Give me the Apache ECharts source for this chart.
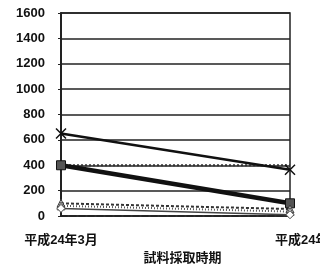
<!DOCTYPE html>
<html>
<head>
<meta charset="utf-8">
<script src="https://cdn.jsdelivr.net/npm/echarts@6/dist/echarts.min.js"></script>
<style>
  html, body, #main { width: 320px; height: 264px; margin: 0; background: #fff; }
</style>
</head>
<body>
<div id="main"></div>
<script>
  // sampling periods
  var periods = ['平成24年3月', '平成24年11月'];
  var yTicks = [0, 200, 400, 600, 800, 1000, 1200, 1400, 1600];

  // series values
  var crossVals = [650, 365];
  var squareVals = [400, 100];
  var dottedVals = [400, 400];
  var triA = [100, 55];
  var triB = [80, 35];
  var triC = [60, 10];

  var chart = echarts.init(document.getElementById('main'));
  var font = '"Liberation Sans", "Noto Sans CJK JP", sans-serif';

  chart.setOption({
    animation: false,
    grid: {
      left: 61, right: 30, top: 13, bottom: 48,
      outerBoundsMode: 'none', containLabel: false,
      show: true, borderColor: '#222', borderWidth: 1.5
    },
    xAxis: {
      type: 'category',
      data: [
        { value: periods[0] },
        { value: periods[1], textStyle: { padding: [0, 0, 0, 50] } }
      ],
      boundaryGap: false,
      axisLine: { lineStyle: { color: '#222', width: 1.5, type: 'dashed' } },
      axisTick: { show: false },
      axisLabel: {
        color: '#111', fontWeight: 'bold', fontSize: 13, margin: 18,
        fontFamily: font, interval: 0, hideOverlap: false
      },
      name: '試料採取時期',
      nameLocation: 'middle',
      nameGap: 34,
      nameTextStyle: {
        color: '#111', fontWeight: 'bold', fontSize: 13, fontFamily: font,
        padding: [0, 0, 0, 14]
      }
    },
    yAxis: {
      type: 'value',
      min: yTicks[0], max: yTicks[yTicks.length - 1], interval: 200,
      axisLine: { show: true, lineStyle: { color: '#222', width: 2 } },
      axisTick: { show: true, length: 3, lineStyle: { color: '#222' } },
      axisLabel: {
        color: '#111', fontWeight: 'bold', fontSize: 13, margin: 16,
        fontFamily: font, formatter: function (v) { return String(v); }
      },
      splitLine: { lineStyle: { color: '#222', width: 1.5 } }
    },
    series: [
      {
        type: 'line', data: dottedVals, symbol: 'none',
        lineStyle: { color: '#333', width: 2, type: [2, 2] }
      },
      {
        type: 'line', data: crossVals,
        symbol: 'path://M0,0L10,10M10,0L0,10', symbolSize: 10,
        itemStyle: { color: '#fff', borderColor: '#111', borderWidth: 1.5 },
        lineStyle: { color: '#111', width: 2.5 }
      },
      {
        type: 'line', data: squareVals, symbol: 'rect', symbolSize: 9,
        itemStyle: { color: '#555', borderColor: '#111', borderWidth: 1 },
        lineStyle: { color: '#111', width: 4.5 }
      },
      {
        type: 'line', data: triA, symbol: 'triangle', symbolSize: 8,
        itemStyle: { color: '#fff', borderColor: '#333', borderWidth: 1 },
        lineStyle: { color: '#333', width: 2, type: [3, 2] }
      },
      {
        type: 'line', data: triB, symbol: 'triangle', symbolSize: 8,
        itemStyle: { color: '#ddd', borderColor: '#555', borderWidth: 1 },
        lineStyle: { color: '#555', width: 2, type: [1, 2] }
      },
      {
        type: 'line', data: triC, symbol: 'diamond', symbolSize: 8,
        itemStyle: { color: '#fff', borderColor: '#444', borderWidth: 1 },
        lineStyle: { color: '#444', width: 1.5 }
      }
    ]
  });
</script>
</body>
</html>
